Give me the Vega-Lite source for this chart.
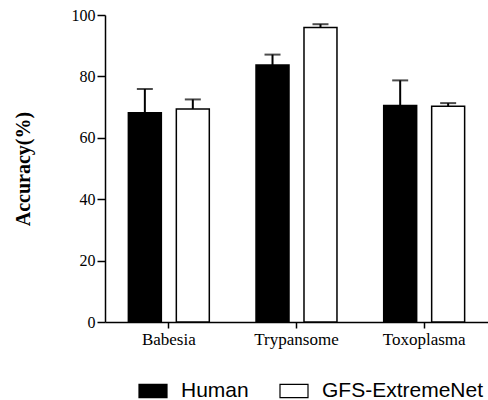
{
  "$schema": "https://vega.github.io/schema/vega-lite/v6.json",
  "autosize": "none",
  "width": 383,
  "height": 307,
  "padding": {"left": 105, "top": 15, "right": 0, "bottom": 78},
  "background": "white",
  "config": {
    "view": {"stroke": null},
    "axis": {"labelFont": "Liberation Serif", "titleFont": "Liberation Serif", "labelColor": "black", "titleColor": "black", "domainColor": "black", "tickColor": "black", "domainWidth": 1.5, "tickWidth": 1.5, "grid": false}
  },
  "data": {
    "values": [
      {"cat": "Babesia", "group": "Human", "value": 68.2, "upper": 75.9},
      {"cat": "Babesia", "group": "GFS-ExtremeNet", "value": 69.4, "upper": 72.5},
      {"cat": "Trypansome", "group": "Human", "value": 83.7, "upper": 87.1},
      {"cat": "Trypansome", "group": "GFS-ExtremeNet", "value": 95.9, "upper": 97.0},
      {"cat": "Toxoplasma", "group": "Human", "value": 70.5, "upper": 78.7},
      {"cat": "Toxoplasma", "group": "GFS-ExtremeNet", "value": 70.3, "upper": 71.3}
    ]
  },
  "encoding": {
    "x": {"field": "cat", "type": "nominal", "sort": ["Babesia", "Trypansome", "Toxoplasma"],
      "scale": {"paddingInner": 0, "paddingOuter": 0},
      "axis": {"title": null, "labelAngle": 0, "labelFontSize": 17, "tickSize": 6, "labelPadding": 3}},
    "xOffset": {"field": "group", "type": "nominal", "sort": ["Human", "GFS-ExtremeNet"],
      "scale": {"paddingInner": 0.3125, "paddingOuter": 0.487}}
  },
  "layer": [
    {
      "mark": {"type": "bar", "stroke": "black", "strokeWidth": 1.5},
      "encoding": {
        "y": {"field": "value", "type": "quantitative",
          "scale": {"domain": [0, 100], "nice": false},
          "axis": {"title": "Accuracy(%)", "titleFontSize": 20, "titleFontWeight": "bold", "labelFontSize": 16, "values": [0, 20, 40, 60, 80, 100], "tickSize": 8, "labelPadding": 2, "titlePadding": 38}},
        "fill": {"field": "group", "type": "nominal", "sort": ["Human", "GFS-ExtremeNet"],
          "scale": {"range": ["black", "white"]},
          "legend": {"title": null, "orient": "none", "direction": "horizontal", "legendX": 33, "legendY": 361,
            "symbolType": "M-1,-0.47H1V0.47H-1Z", "symbolSize": 784, "symbolStrokeColor": "black", "symbolStrokeWidth": 1.2,
            "labelFont": "Liberation Sans", "labelFontSize": 21, "labelColor": "black", "labelOffset": 13, "labelLimit": 300, "columnPadding": 28, "symbolOffset": 0}}
      }
    },
    {
      "mark": {"type": "rule", "color": "black", "strokeWidth": 2},
      "encoding": {"y": {"field": "value", "type": "quantitative"}, "y2": {"field": "upper"}}
    },
    {
      "mark": {"type": "tick", "color": "black", "thickness": 2, "size": 16, "orient": "horizontal"},
      "encoding": {"y": {"field": "upper", "type": "quantitative"}}
    }
  ]
}
